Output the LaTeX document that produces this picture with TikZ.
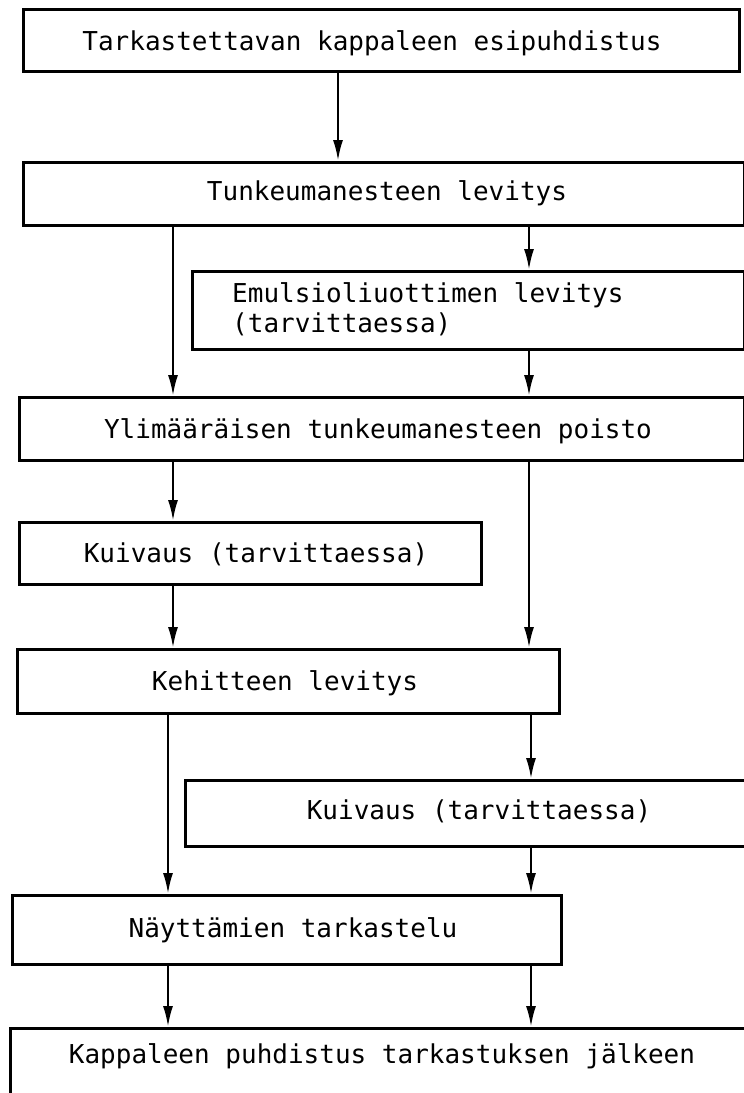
\documentclass[tikz,border=0pt]{standalone}
\usepackage{fontspec}
\newfontfamily\typewriter{DejaVu Sans Mono}
\usetikzlibrary{arrows.meta}
\tikzset{
  stepbox/.style={draw=black, line width=2.6pt, inner sep=0pt, anchor=north west},
  label/.style={font=\typewriter\fontsize{26}{30}\selectfont, inner sep=0pt, anchor=base},
  flow/.style={line width=2.4pt, -{Latex[length=21pt,width=10pt]}},
}
\begin{document}
\begin{tikzpicture}[x=1pt,y=-1pt]
\useasboundingbox (0,0) rectangle (744,1093);
\clip (0,0) rectangle (744,1093);
\fill[white] (0,0) rectangle (744,1093);

% process boxes (top-left corner, width, height)
\node[stepbox, minimum width=716pt, minimum height=62pt] (b1) at (22,8) {};
\node[stepbox, minimum width=721pt, minimum height=63pt] (b2) at (22,161) {};
\node[stepbox, minimum width=552pt, minimum height=78pt] (b3) at (191,270) {};
\node[stepbox, minimum width=725pt, minimum height=63pt] (b4) at (18,396) {};
\node[stepbox, minimum width=462pt, minimum height=62pt] (b5) at (18,521) {};
\node[stepbox, minimum width=542pt, minimum height=64pt] (b6) at (16,648) {};
\node[stepbox, minimum width=580pt, minimum height=66pt] (b7) at (184,779) {};
\node[stepbox, minimum width=549pt, minimum height=69pt] (b8) at (11,894) {};
\node[stepbox, minimum width=760pt, minimum height=90pt] (b9) at (9,1027) {};

% box texts
\node[label] (t1) at (372,50) {Tarkastettavan kappaleen esipuhdistus};
\node[label] (t2) at (387,200) {Tunkeumanesteen levitys};
\node[label, anchor=base west] (t3) at (232,302)
  {\vtop{\hbox{Emulsioliuottimen levitys}\hbox{(tarvittaessa)}}};
\node[label] (t4) at (378,438) {Ylimääräisen tunkeumanesteen poisto};
\node[label] (t5) at (256,562) {Kuivaus (tarvittaessa)};
\node[label] (t6) at (285,690) {Kehitteen levitys};
\node[label] (t7) at (479,819) {Kuivaus (tarvittaessa)};
\node[label] (t8) at (293,937) {Näyttämien tarkastelu};
\node[label] (t9) at (382,1063) {Kappaleen puhdistus tarkastuksen jälkeen};

% connector columns
\coordinate (cM) at (338,0);
\coordinate (cL) at (173,0);
\coordinate (cLL) at (168,0);
\coordinate (cR) at (529,0);
\coordinate (cRR) at (531,0);

% connectors
\draw[flow] (b1.south -| cM) -- (b2.north -| cM);
\draw[flow] (b2.south -| cL) -- (b4.north -| cL);
\draw[flow] (b2.south -| cR) -- (b3.north -| cR);
\draw[flow] (b3.south -| cR) -- (b4.north -| cR);
\draw[flow] (b4.south -| cL) -- (b5.north -| cL);
\draw[flow] (b4.south -| cR) -- (b6.north -| cR);
\draw[flow] (b5.south -| cL) -- (b6.north -| cL);
\draw[flow] (b6.south -| cLL) -- (b8.north -| cLL);
\draw[flow] (b6.south -| cRR) -- (b7.north -| cRR);
\draw[flow] (b7.south -| cRR) -- (b8.north -| cRR);
\draw[flow] (b8.south -| cLL) -- (b9.north -| cLL);
\draw[flow] (b8.south -| cRR) -- (b9.north -| cRR);
\end{tikzpicture}
\end{document}
